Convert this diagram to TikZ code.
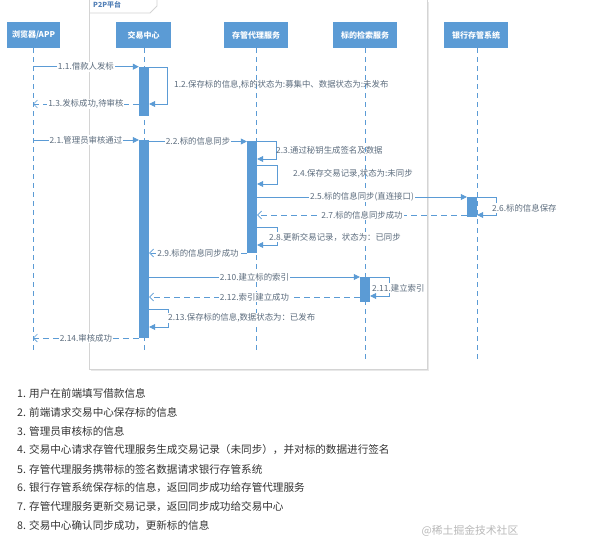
\documentclass[tikz,border=0pt]{standalone}
\usepackage{fontspec}
\setmainfont{Noto Sans CJK SC}
\usetikzlibrary{arrows.meta}
\definecolor{blu}{HTML}{5B9BD5}
\definecolor{lbl}{HTML}{5D6D7E}
\definecolor{dark}{HTML}{333333}
\definecolor{framec}{HTML}{D4D4D4}
\definecolor{tabc}{HTML}{4F7DB5}
\begin{document}
\begin{tikzpicture}[x=1pt,y=-1pt,
  head/.style={fill=blu, text=white, font=\bfseries\fontsize{8}{9}\selectfont, minimum height=26pt, inner sep=0pt},
  bar/.style={fill=blu, draw=none, minimum width=10pt, inner sep=0pt},
  lifeline/.style={draw=blu, line width=0.8pt, dash pattern=on 5pt off 4pt},
  msg/.style={draw=blu, line width=0.7pt, -{Triangle[length=6pt,width=6pt]}},
  ret/.style={draw=blu, line width=0.7pt, dash pattern=on 6pt off 4pt, -{Straight Barb[length=4pt,width=8pt]}},
  lab/.style={fill=white, text=lbl, font=\fontsize{8.4}{9}\selectfont, inner sep=1pt},
  slab/.style={text=lbl, font=\fontsize{8.4}{9}\selectfont, anchor=west, inner sep=1pt},
  listitem/.style={anchor=west, text=dark, font=\fontsize{10.6}{12}\selectfont, inner sep=0pt}
]
\useasboundingbox[fill=white] (0,0) rectangle (600,543);

% frame
\draw[gray!18, line width=1.5pt] (91,370.5) -- (428.5,370.5) -- (428.5,2);
\draw[framec, line width=0.8pt] (89,-2) rectangle (427,369);
\draw[framec, line width=0.8pt] (89,13) -- (150,13) -- (157,6) -- (157,-2);
\node[anchor=west, text=tabc, font=\bfseries\fontsize{7}{8}\selectfont, inner sep=0pt] (tab) at (93,4.5) {P2P平台};

% headers
\node[head, minimum width=53pt] (h1) at (33.5,35) {浏览器/APP};
\node[head, minimum width=55pt] (h2) at (143.5,35) {交易中心};
\node[head, minimum width=64pt] (h3) at (256,35) {存管代理服务};
\node[head, minimum width=64pt] (h4) at (365,35) {标的检索服务};
\node[head, minimum width=64pt] (h5) at (476,35) {银行存管系统};

% lifelines
\coordinate (e1) at (33,354);
\coordinate (e2) at (144,354);
\coordinate (e3) at (256,354);
\coordinate (e4) at (365,363);
\coordinate (e5) at (477,363);
\draw[lifeline] (h1.south -| e1) -- (e1);
\draw[lifeline] (h2.south -| e2) -- (e2);
\draw[lifeline] (h3.south -| e3) -- (e3);
\draw[lifeline] (h4.south -| e4) -- (e4);
\draw[lifeline] (h5.south -| e5) -- (e5);

% activation bars
\node[bar, minimum height=49pt] (A1) at (144,91.5) {};
\node[bar, minimum height=198pt] (A2) at (144,239) {};
\node[bar, minimum height=112pt] (B1) at (252,197) {};
\node[bar, minimum height=20pt] (C1) at (472,207) {};
\node[bar, minimum height=25pt] (D1) at (365,289.5) {};

% 1.1
\draw[msg] (e1 |- 0,66.7) -- node[lab] {1.1.借款人发标} (A1.west |- 0,66.7);
% 1.2
\draw[msg] (A1.east |- 0,67) -- ++(18,0) |- (A1.east |- 0,104);
\node[slab] (l12) at (173,84.5) {1.2.保存标的信息,标的状态为:募集中、数据状态为:未发布};
% 1.3
\draw[ret] (A1.west |- 0,104) -- node[lab] {1.3.发标成功,待审核} (e1 |- 0,104);
% 2.1
\draw[msg] (e1 |- 0,140) -- node[lab] {2.1.管理员审核通过} (A2.west |- 0,140);
% 2.2
\draw[msg] (A2.east |- 0,141.5) -- node[lab] {2.2.标的信息同步} (B1.west |- 0,141.5);
% 2.3
\draw[msg] (B1.east |- 0,141.5) -- ++(19,0) |- (B1.east |- 0,159);
\node[slab] (l23) at (275,150.5) {2.3.通过秘钥生成签名及数据};
% 2.4
\draw[msg] (B1.east |- 0,165) -- ++(20,0) |- (B1.east |- 0,184);
\node[slab] (l24) at (292,173.5) {2.4.保存交易记录,状态为:未同步};
% 2.5
\draw[msg] (B1.east |- 0,197) -- node[lab] {2.5.标的信息同步(直连接口)} (C1.west |- 0,197);
% 2.6
\draw[msg] (C1.east |- 0,197) -- ++(19,0) |- (C1.east |- 0,215);
\node[slab, fill=white] (l26) at (491,208) {2.6.标的信息保存};
% 2.7
\draw[ret] (C1.west |- 0,215) -- node[lab] {2.7.标的信息同步成功} (B1.east |- 0,215);
% 2.8
\draw[msg] (B1.east |- 0,227) -- ++(20,0) |- (B1.east |- 0,245);
\node[slab, fill=white] (l28) at (268,237) {2.8.更新交易记录，状态为：已同步};
% 2.9
\draw[ret] (B1.west |- 0,253) -- node[lab] {2.9.标的信息同步成功} (A2.east |- 0,253);
% 2.10
\draw[msg] (A2.east |- 0,277) -- node[lab] {2.10.建立标的索引} (D1.west |- 0,277);
% 2.11
\draw[msg] (D1.east |- 0,277) -- ++(19,0) |- (D1.east |- 0,296);
\node[slab, fill=white] (l211) at (371,288) {2.11.建立索引};
% 2.12
\draw[ret] (D1.west |- 0,297) -- node[lab] {2.12.索引建立成功} (A2.east |- 0,297);
% 2.13
\draw[msg] (A2.east |- 0,309) -- ++(19,0) |- (A2.east |- 0,327);
\node[slab, fill=white] (l213) at (167,318) {2.13.保存标的信息,数据状态为：已发布};
% 2.14
\draw[ret] (A2.west |- 0,338) -- node[lab] {2.14.审核成功} (e1 |- 0,338);

% list
\node[listitem] (t1) at (17,393) {1. 用户在前端填写借款信息};
\node[listitem] (t2) at (17,412) {2. 前端请求交易中心保存标的信息};
\node[listitem] (t3) at (17,431) {3. 管理员审核标的信息};
\node[listitem] (t4) at (17,450) {4. 交易中心请求存管代理服务生成交易记录（未同步），并对标的数据进行签名};
\node[listitem] (t5) at (17,469) {5. 存管代理服务携带标的签名数据请求银行存管系统};
\node[listitem] (t6) at (17,488) {6. 银行存管系统保存标的信息，返回同步成功给存管代理服务};
\node[listitem] (t7) at (17,507) {7. 存管代理服务更新交易记录，返回同步成功给交易中心};
\node[listitem] (t8) at (17,526) {8. 交易中心确认同步成功，更新标的信息};
\node[text=gray!55, font=\fontsize{10.8}{12}\selectfont, inner sep=0pt] (wm) at (470,531) {@稀土掘金技术社区};
\end{tikzpicture}
\end{document}
